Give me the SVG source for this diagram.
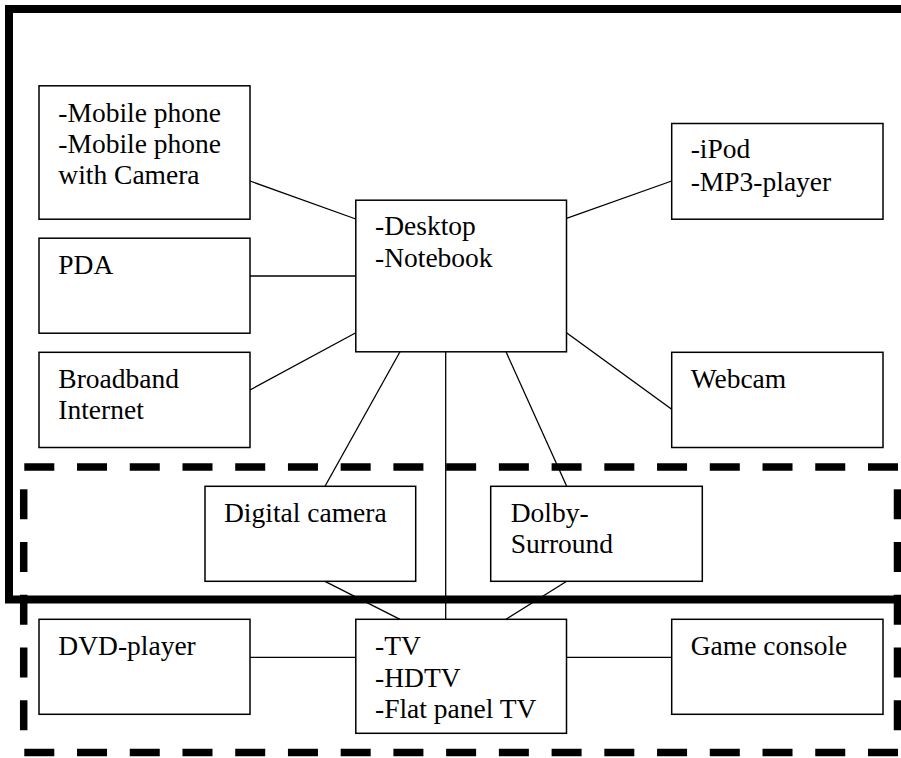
<svg xmlns="http://www.w3.org/2000/svg" width="901" height="758" viewBox="0 0 901 758">
<style>
.box{fill:#fff;stroke:#000;stroke-width:1.5}
text{font-family:'Liberation Serif','Times New Roman','DejaVu Serif',serif;font-size:27.5px;fill:#000}
.c line{stroke:#000;stroke-width:1.3}
.dash{stroke:#000;stroke-width:7.5;stroke-dasharray:30 22.73;fill:none}
</style>
<rect x="0" y="0" width="901" height="758" fill="#fff"/>
<g id="frame-solid">
<path d="M905,9 H9 V599.5 H905" fill="none" stroke="#000" stroke-width="8" stroke-linejoin="miter"/>
</g>
<g id="frame-dashed">
<line class="dash" x1="24.3" y1="467" x2="901" y2="467"/>
<line class="dash" x1="24.3" y1="752.5" x2="901" y2="752.5"/>
<line class="dash" x1="23.7" y1="467" x2="23.7" y2="752.5" stroke-dashoffset="30.43"/>
<line class="dash" x1="897.5" y1="467" x2="897.5" y2="752.5" stroke-dashoffset="30.43"/>
</g>
<g id="connectors" class="c">
<line x1="250" y1="181" x2="355.8" y2="219"/>
<line x1="250" y1="276" x2="355.8" y2="276"/>
<line x1="250" y1="390" x2="355.8" y2="332.7"/>
<line x1="566.5" y1="218.3" x2="671.7" y2="181"/>
<line x1="566.5" y1="332.7" x2="671.7" y2="409.3"/>
<line x1="400" y1="351.8" x2="325" y2="486.3"/>
<line x1="445.7" y1="351.8" x2="445.7" y2="619.3"/>
<line x1="506" y1="351.8" x2="566.7" y2="486.3"/>
<line x1="325" y1="581.3" x2="400" y2="619.3"/>
<line x1="566.7" y1="581.3" x2="506" y2="619.3"/>
<line x1="250" y1="657.3" x2="355.8" y2="657.3"/>
<line x1="566.5" y1="657.3" x2="671.7" y2="657.3"/>
</g>
<g id="mobile">
<rect class="box" x="39" y="85.8" width="211" height="133.4"/>
<text x="58.3" y="121.5">-Mobile phone</text>
<text x="58.3" y="152.8">-Mobile phone</text>
<text x="58.3" y="184">with Camera</text>
</g>
<g id="pda">
<rect class="box" x="39" y="238.2" width="211" height="95"/>
<text x="58.3" y="274">PDA</text>
</g>
<g id="broadband">
<rect class="box" x="39" y="352.3" width="211" height="95.2"/>
<text x="58.3" y="388.3">Broadband</text>
<text x="58.3" y="419.3">Internet</text>
</g>
<g id="desktop">
<rect class="box" x="355.8" y="200.2" width="210.7" height="151.6"/>
<text x="375" y="235">-Desktop</text>
<text x="375" y="266.7">-Notebook</text>
</g>
<g id="ipod">
<rect class="box" x="671.7" y="123.5" width="211.3" height="95.7"/>
<text x="690.7" y="158.3">-iPod</text>
<text x="690.7" y="190.5">-MP3-player</text>
</g>
<g id="webcam">
<rect class="box" x="671.7" y="352.3" width="211.3" height="95.2"/>
<text x="690.7" y="388.3">Webcam</text>
</g>
<g id="digicam">
<rect class="box" x="205" y="486.3" width="210.7" height="95"/>
<text x="224" y="521.7">Digital camera</text>
</g>
<g id="dolby">
<rect class="box" x="490.7" y="486.3" width="211.6" height="95"/>
<text x="510.7" y="521.7">Dolby-</text>
<text x="510.7" y="553.3">Surround</text>
</g>
<g id="dvd">
<rect class="box" x="39" y="619.3" width="211" height="95"/>
<text x="58.3" y="655">DVD-player</text>
</g>
<g id="tv">
<rect class="box" x="355.8" y="619.3" width="210.7" height="114"/>
<text x="375" y="655">-TV</text>
<text x="375" y="686.5">-HDTV</text>
<text x="375" y="718.3">-Flat panel TV</text>
</g>
<g id="game">
<rect class="box" x="671.7" y="619.3" width="211.3" height="95"/>
<text x="690.7" y="655">Game console</text>
</g>
</svg>
